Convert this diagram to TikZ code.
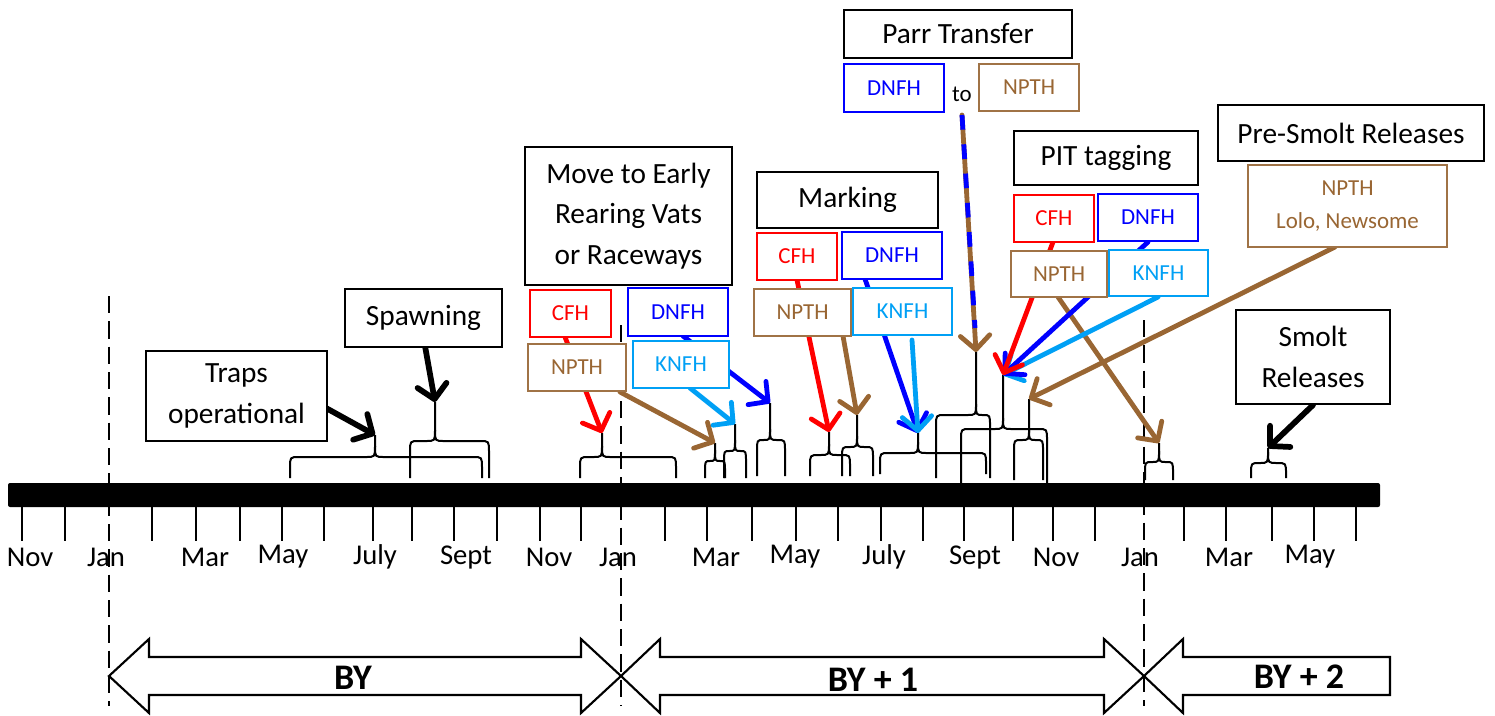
\documentclass[tikz,border=0pt]{standalone}
\usepackage{fontspec}
\setmainfont{Carlito}
\usetikzlibrary{arrows.meta}
\definecolor{cred}{RGB}{255,0,0}
\definecolor{cblue}{RGB}{0,0,255}
\definecolor{clb}{RGB}{0,160,245}
\definecolor{cbrown}{RGB}{153,102,51}
\definecolor{cbrownbox}{RGB}{160,115,70}
\tikzset{
  brc/.style={line width=1.5pt, line join=round},
  arr/.style={line width=3.6pt, line cap=round, -{Straight Barb[length=10.5pt,width=22pt,round]}},
  blk/.style={arr, black, line width=4.3pt},
  lbl/.style={draw=black, line width=1.1pt, fill=white, inner sep=0pt, outer sep=0pt, align=center, font=\fontsize{22}{30.5}\selectfont},
  tag/.style={line width=1.1pt, fill=white, inner sep=0pt, outer sep=0pt, align=center, font=\fontsize{17.2}{24.75}\selectfont},
  tagR/.style={tag, draw=cred, text=cred},
  tagB/.style={tag, draw=cblue, text=cblue},
  tagL/.style={tag, draw=clb, text=clb},
  tagN/.style={tag, draw=cbrownbox, text=cbrown},
  month/.style={inner sep=0pt, font=\fontsize{21.5}{25}\selectfont},
  tickline/.style={line width=1.4pt},
  dsh/.style={line width=2.2pt, dash pattern=on 13pt off 6pt},
  bigarr/.style={line width=1.6pt, fill=white, line join=miter},
  bytxt/.style={inner sep=0pt, font=\fontsize{27}{30}\selectfont\bfseries}
}
% box: name, style, x1, y1, x2, y2, text
\newcommand\boxnode[7]{%
  \node[#2, minimum width={(#5-#3)*0.75pt}, minimum height={(#6-#4)*0.75pt}] (#1) at ({(#3+#5)/2},{(#4+#6)/2}) {#7};}
% curly brace: name, L, C, R, H, T, B
\newcommand\cbrace[7]{%
  \pgfmathsetmacro\brL{min(9,(#3-#2)/2)}%
  \pgfmathsetmacro\brR{min(9,(#4-#3)/2)}%
  \draw[brc] (#2,#7) -- (#2,#5+11) .. controls (#2,#5) .. (#2+\brL,#5) -- (#3-\brL,#5) .. controls (#3,#5) .. (#3,#5-11) -- (#3,#6);
  \draw[brc] (#4,#7) -- (#4,#5+11) .. controls (#4,#5) .. (#4-\brR,#5) -- (#3+\brR,#5) .. controls (#3,#5) .. (#3,#5-11);
  \coordinate (#1) at (#3,#6);}
\begin{document}
\begin{tikzpicture}[x=0.75pt,y=-0.75pt]
\useasboundingbox (0,0) rectangle (1495,715);
% timeline bar
\fill[rounded corners=1.5pt] (8,483) rectangle (1380,507);
\foreach \t in {22,65,152,196,240,282,324,373,412,454,497,540,581,665,707,752,796,838,881,923,964,1013,1053,1095,1184,1226,1272,1314,1356}
  \draw[tickline] (\t,507) -- (\t,541);
\foreach \x/\m [count=\i] in {30/Nov,106/Jan,205/Mar,283/May,375/July,466/Sept,549/Nov,618/Jan,716/Mar,795/May,884/July,975/Sept,1056/Nov,1140/Jan,1229/Mar,1310/May}
  \node[month] (mo\i) at (\x,557) {\m};
% year arrows
\draw[bigarr] (109,676) -- (149,639) -- (149,657) -- (581,657) -- (581,639) -- (621,676) -- (581,713) -- (581,695) -- (149,695) -- (149,713) -- cycle;
\draw[bigarr] (621,676) -- (660,639) -- (660,657) -- (1104,657) -- (1104,639) -- (1144,676) -- (1104,713) -- (1104,695) -- (660,695) -- (660,713) -- cycle;
\draw[bigarr] (1144,676) -- (1183,639) -- (1183,657) -- (1390,657) -- (1390,695) -- (1183,695) -- (1183,713) -- cycle;
\node[bytxt] (by0) at (353,678) {BY};
\node[bytxt] (by1) at (873,680) {BY + 1};
\node[bytxt] (by2) at (1299,677) {BY + 2};
% dashed year lines
\draw[dsh] (109,296) -- (109,706);
\draw[dsh] (621,325) -- (621,706);
\draw[dsh] (1144,320) -- (1144,706);
% braces
\cbrace{ba}{290}{375}{482}{457}{435}{478}
\cbrace{bb}{410}{435}{489}{441}{402}{478}
\cbrace{bc}{580}{602}{676}{457}{433}{478}
\cbrace{bd}{705}{715}{725}{461}{443}{478}
\cbrace{be}{724}{735}{746}{451}{424}{478}
\cbrace{bf}{757}{770}{785}{440}{403}{476}
\cbrace{bg}{810}{829}{850}{455}{432}{476}
\cbrace{bh}{842}{857}{873}{447}{415}{476}
\cbrace{bi}{880}{918}{986}{453}{433}{474}
\cbrace{bj}{936}{976}{990}{415}{352}{478}
\cbrace{bk}{961}{1003}{1047}{429}{375}{483}
\cbrace{bl}{1014}{1029}{1043}{440}{399}{480}
\cbrace{bm}{1145}{1159}{1173}{462}{443}{480}
\cbrace{bn}{1251}{1268}{1286}{463}{448}{478}
% arrow start points
\coordinate (sT) at (326,408);
\coordinate (sS) at (425,346);
\coordinate (sM) at (1313,405);
\coordinate (sR1) at (565,337);
\coordinate (sR2) at (797,280);
\coordinate (sR3) at (1053,242);
\coordinate (sN1) at (620,392);
\coordinate (sN2) at (843,336);
\coordinate (sN3) at (1058,297);
\coordinate (sN4) at (1335,247);
\coordinate (sB1) at (683,336);
\coordinate (sB2) at (865,279);
\coordinate (sB3) at (1148,242);
\coordinate (sL1) at (690,388);
\coordinate (sL2) at (912,340);
\coordinate (sL3) at (1158,297);
\coordinate (sP) at (962,115);
\coordinate (pE) at (975,328);
% arrows
\draw[blk] (sT) -- (ba);
\draw[blk] (sS) -- (bb);
\draw[blk] (sM) -- (bn);
\draw[arr, cred] (sR1) -- (bc);
\draw[arr, cred] (sR2) -- (bg);
\draw[arr, cbrown] (sN1) -- (bd);
\draw[arr, cbrown] (sN2) -- (bh);
\draw[arr, cbrown] (sN3) -- (bm);
\draw[arr, cbrown] (sN4) -- (bl);
\draw[arr, cblue] (sB1) -- (bf);
\draw[arr, cblue] (sB2) -- (bi);
\draw[arr, clb] (sL1) -- (be);
\draw[arr, clb] (sL2) -- (bi);
\draw[arr, cbrown] (sP) -- (bj);
\draw[line width=3.6pt, cblue, dash pattern=on 11pt off 11pt] (sP) -- (pE);
\draw[arr, clb] (sL3) -- (bk);
\draw[arr, cblue] (sB3) -- (bk);
\draw[arr, cred] (sR3) -- (bk);
% label boxes
\boxnode{traps}{lbl}{146}{351}{327}{441}{Traps\\operational}
\boxnode{spawn}{lbl}{345}{289}{502}{347}{Spawning}
\boxnode{move}{lbl}{525}{147}{732}{285}{Move to Early\\Rearing Vats\\or Raceways}
\boxnode{mcfh}{tagR}{530}{290}{611}{337}{CFH}
\boxnode{mnpth}{tagN}{528}{344}{626}{391}{NPTH}
\boxnode{mdnfh}{tagB}{628}{288}{728}{336}{DNFH}
\boxnode{mknfh}{tagL}{633}{341}{729}{388}{KNFH}
\boxnode{mark}{lbl}{757}{172}{938}{228}{Marking}
\boxnode{kcfh}{tagR}{757}{233}{837}{280}{CFH}
\boxnode{kdnfh}{tagB}{842}{232}{942}{279}{DNFH}
\boxnode{knpth}{tagN}{754}{289}{851}{336}{NPTH}
\boxnode{kknfh}{tagL}{853}{288}{952}{335}{KNFH}
\boxnode{parr}{lbl}{844}{10}{1072}{58}{Parr Transfer}
\boxnode{pdnfh}{tagB}{844}{64}{944}{112}{DNFH}
\node[inner sep=0pt, font=\fontsize{17.2}{20}\selectfont] (pto) at (962,94) {to};
\boxnode{pnpth}{tagN}{979}{64}{1079}{111}{NPTH}
\boxnode{pit}{lbl}{1014}{131}{1198}{185}{PIT tagging}
\boxnode{tcfh}{tagR}{1014}{195}{1094}{242}{CFH}
\boxnode{tdnfh}{tagB}{1098}{194}{1198}{241}{DNFH}
\boxnode{tnpth}{tagN}{1011}{251}{1107}{297}{NPTH}
\boxnode{tknfh}{tagL}{1109}{250}{1208}{296}{KNFH}
\boxnode{pre}{lbl}{1218}{105}{1484}{161}{Pre-Smolt Releases}
\boxnode{prenpth}{tagN}{1248}{165}{1447}{247}{NPTH\\Lolo, Newsome}
\boxnode{smolt}{lbl}{1236}{310}{1390}{404}{Smolt\\Releases}
\end{tikzpicture}
\end{document}
